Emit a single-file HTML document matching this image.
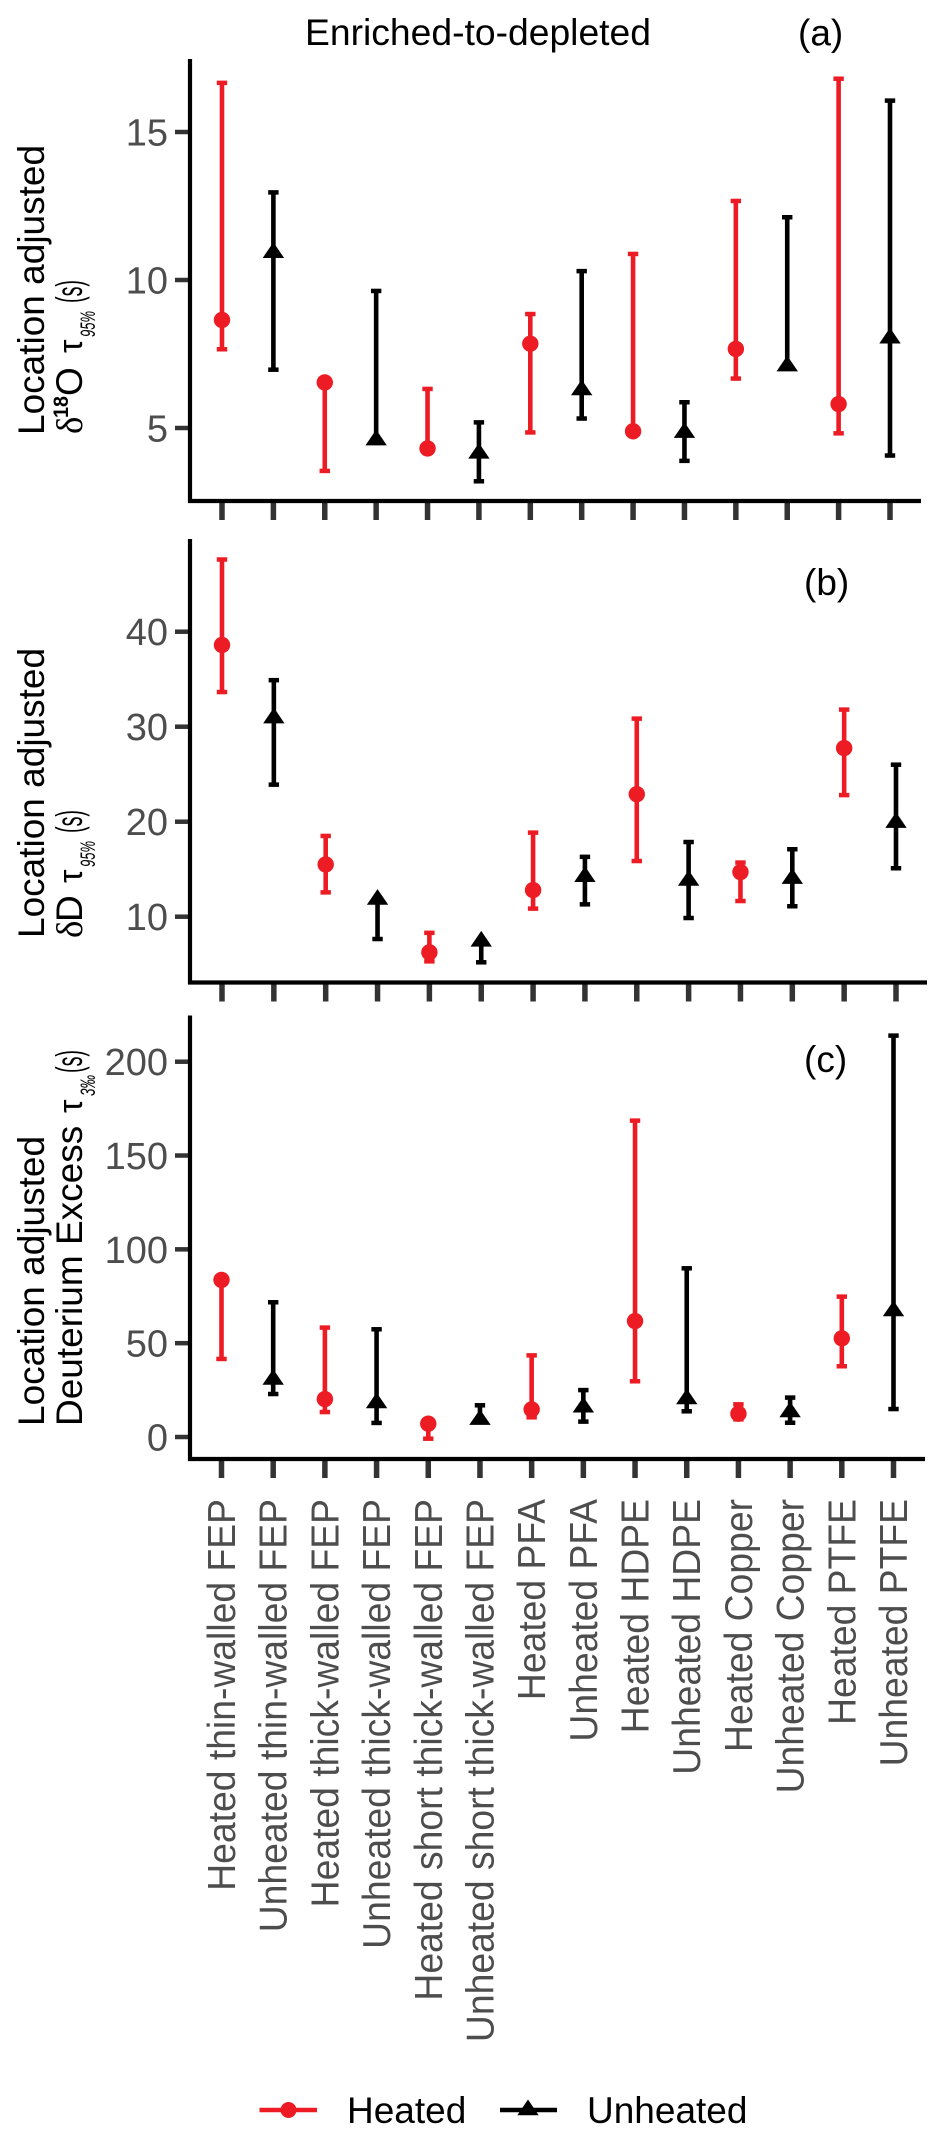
<!DOCTYPE html>
<html lang="en">
<head>
<meta charset="utf-8">
<title>Enriched-to-depleted</title>
<style>
html,body{margin:0;padding:0;background:#fff;width:941px;height:2139px;overflow:hidden}
svg{display:block}
text{font-family:"Liberation Sans",sans-serif}
.ttl{font-size:37px;fill:#000}
.sym{font-family:"Liberation Serif",serif}
.sub{font-size:21px;font-style:italic}
.tau{font-size:34px}
</style>
</head>
<body>
<svg id="chart" xmlns="http://www.w3.org/2000/svg" width="941" height="2139" viewBox="0 0 941 2139">
  <rect x="0" y="0" width="941" height="2139" fill="#fff"/>
  <text class="ttl" x="305" y="45" textLength="346" lengthAdjust="spacingAndGlyphs">Enriched-to-depleted</text>
  <text class="ttl" x="798" y="45.5">(a)</text>
  <text class="ttl" x="804" y="595">(b)</text>
  <text class="ttl" x="804" y="1072">(c)</text>

  <g class="ttl">
    <text transform="translate(44,435) rotate(-90)">Location adjusted</text>
    <text class="sym" transform="translate(82,434) rotate(-90)">δ</text>
    <text textLength="22" lengthAdjust="spacingAndGlyphs" transform="translate(68,418) rotate(-90)" style="font-size:21px;font-weight:bold">18</text>
    <text transform="translate(82,396) rotate(-90)">O</text>
    <text class="tau" transform="translate(82,353) rotate(-90)">τ</text>
    <text class="sub" textLength="26" lengthAdjust="spacingAndGlyphs" transform="translate(95,337) rotate(-90)">95%</text>
    <text textLength="23" lengthAdjust="spacingAndGlyphs" transform="translate(82,303) rotate(-90)">(s)</text>
  </g>
  <g class="ttl">
    <text transform="translate(44,938) rotate(-90)">Location adjusted</text>
    <text class="sym" transform="translate(82,938) rotate(-90)">δ</text>
    <text transform="translate(82,922) rotate(-90)">D</text>
    <text class="tau" transform="translate(82,883) rotate(-90)">τ</text>
    <text class="sub" textLength="26" lengthAdjust="spacingAndGlyphs" transform="translate(95,867) rotate(-90)">95%</text>
    <text textLength="23" lengthAdjust="spacingAndGlyphs" transform="translate(82,833) rotate(-90)">(s)</text>
  </g>
  <g class="ttl">
    <text transform="translate(44,1426) rotate(-90)">Location adjusted</text>
    <text transform="translate(82,1426) rotate(-90)">Deuterium Excess</text>
    <text class="tau" transform="translate(82,1113) rotate(-90)">τ</text>
    <text class="sub" textLength="21" lengthAdjust="spacingAndGlyphs" transform="translate(95,1096) rotate(-90)">3‰</text>
    <text textLength="23" lengthAdjust="spacingAndGlyphs" transform="translate(82,1073) rotate(-90)">(s)</text>
  </g>

  <g>
    <g>
      <line x1="259.5" x2="317" y1="2110" y2="2110" stroke="#ED1C24" stroke-width="4.5"/>
      <circle cx="288.5" cy="2110" r="8" fill="#ED1C24"/>
      <text class="ttl" x="347" y="2123">Heated</text>
    </g>
    <g>
      <line x1="500" x2="557" y1="2110" y2="2110" stroke="#000" stroke-width="4.5"/>
      <polygon points="528,2099.5 538.7,2115.2 517.3,2115.2" fill="#000"/>
      <text class="ttl" x="587" y="2123">Unheated</text>
    </g>
  </g>
  <g id="panels"></g>
</svg>
<script>
const categories = ["Heated thin-walled FEP","Unheated thin-walled FEP","Heated thick-walled FEP","Unheated thick-walled FEP","Heated short thick-walled FEP","Unheated short thick-walled FEP","Heated PFA","Unheated PFA","Heated HDPE","Unheated HDPE","Heated Copper","Unheated Copper","Heated PTFE","Unheated PTFE"];

const o18Mid  = [8.65,10.92,6.54,4.59,4.31,4.14,7.85,6.28,4.89,4.84,7.67,7.09,5.81,8.03];
const o18Low  = [7.66,6.97,3.55,4.59,4.31,3.2,4.85,5.32,4.89,3.89,6.67,7.09,4.82,4.07];
const o18High = [16.66,12.96,6.54,9.63,6.32,5.19,8.85,10.3,10.88,5.87,12.67,12.12,16.8,16.06];
const o18Ticks = [5,10,15];

const dMid  = [38.6,30.9,15.5,11.8,6.25,7.4,12.8,14.2,22.9,13.8,14.7,14.0,27.75,19.9];
const dLow  = [33.65,23.9,12.56,7.65,5.3,5.2,10.85,11.3,15.86,9.86,11.65,11.1,22.8,15.1];
const dHigh = [47.6,34.9,18.5,11.8,8.3,7.4,18.85,16.3,30.85,17.86,15.7,17.1,31.8,26];
const dTicks = [10,20,30,40];

const dxsMid  = [83.7,30.6,20.2,18.1,7.1,9.2,14.7,15.8,61.8,20.2,12.4,13.3,52.6,67.1];
const dxsLow  = [41.6,22.9,13.3,7.5,-0.9,9.2,10.5,8.2,29.7,13.7,9.4,7.6,37.7,14.9];
const dxsHigh = [83.7,71.8,58.3,57.4,7.1,16.9,43.5,25,168.6,89.9,17.4,21,74.8,213.9];
const dxsTicks = [0,50,100,150,200];

const NS = "http://www.w3.org/2000/svg";
const RED = "#ED1C24";
const root = document.getElementById("panels");

function make(tag, attrs, parent) {
  const el = document.createElementNS(NS, tag);
  for (const k in attrs) el.setAttribute(k, attrs[k]);
  parent.appendChild(el);
  return el;
}
function linear(d0, d1, r0, r1) {
  return v => r0 + (v - d0) * (r1 - r0) / (d1 - d0);
}

function drawPanel(p) {
  const y = linear(p.domain[0], p.domain[1], p.range[0], p.range[1]);
  const x = linear(0, categories.length - 1, p.xStart, p.xEnd);

  const g = make("g", {}, root);
  
  

  p.ticks.forEach(t => {
    const tick = make("line", {x1: 175, x2: 190, y1: y(t), y2: y(t), stroke: "#333", "stroke-width": 4.5}, g);
    
    
    const lab = make("text", {x: 168, y: y(t) + 13.5, "text-anchor": "end", "font-size": 38, fill: "#4D4D4D"}, g);
    lab.textContent = t;
    
    
  });

  categories.forEach((c, i) => {
    const tick = make("line", {x1: x(i), x2: x(i), y1: p.axisBottom, y2: p.axisBottom + 19, stroke: "#333", "stroke-width": 5.5}, g);
    
    
  });

  const yAxis = make("line", {x1: 190, x2: 190, y1: p.axisTop, y2: p.axisBottom + 2, stroke: "#000", "stroke-width": 4.2}, g);
  
  
  const xAxis = make("line", {x1: 188, x2: p.axisRight, y1: p.axisBottom, y2: p.axisBottom, stroke: "#000", "stroke-width": 4.2}, g);
  
  

  categories.forEach((c, i) => {
    const heated = c.startsWith("Heated");
    const col = heated ? RED : "#000";
    const cx = x(i);
    const group = make("g", {}, g);
    
    
    const hi = y(p.high[i]), lo = y(p.low[i]), mid = y(p.mid[i]);
    make("line", {x1: cx, x2: cx, y1: hi, y2: lo, stroke: col, "stroke-width": 4.6}, group);
    if (p.high[i] !== p.mid[i]) make("rect", {x: cx - 5.2, y: hi - 2.25, width: 10.4, height: 4.5, fill: col}, group);
    if (p.low[i] !== p.mid[i]) make("rect", {x: cx - 5.2, y: lo - 2.25, width: 10.4, height: 4.5, fill: col}, group);
    if (heated) {
      make("circle", {cx: cx, cy: mid, r: 8.2, fill: col}, group);
    } else {
      make("polygon", {points: [cx, mid - 10.5, cx + 10.7, mid + 5.2, cx - 10.7, mid + 5.2].join(" "), fill: col}, group);
    }
  });

  if (p.showLabels) {
    categories.forEach((c, i) => {
      const lab = make("text", {transform: "translate(" + (x(i) + 13.5) + "," + p.labelTop + ") rotate(-90) scale(1,1.04)", "text-anchor": "end", "font-size": 37.3, fill: "#4D4D4D"}, g);
      lab.textContent = c;
      
      
    });
  }
}

drawPanel({id: "a", domain: [5, 15], range: [428, 132], ticks: o18Ticks, mid: o18Mid, low: o18Low, high: o18High, xStart: 222, xEnd: 890, axisTop: 59, axisBottom: 501, axisRight: 921});
drawPanel({id: "b", domain: [10, 40], range: [916.7, 631.7], ticks: dTicks, mid: dMid, low: dLow, high: dHigh, xStart: 222, xEnd: 896, axisTop: 539, axisBottom: 982.5, axisRight: 927});
drawPanel({id: "c", domain: [0, 200], range: [1437, 1061.7], ticks: dxsTicks, mid: dxsMid, low: dxsLow, high: dxsHigh, xStart: 221.5, xEnd: 893.5, axisTop: 1015.5, axisBottom: 1459, axisRight: 925, showLabels: true, labelTop: 1499});
</script>
</body>
</html>
